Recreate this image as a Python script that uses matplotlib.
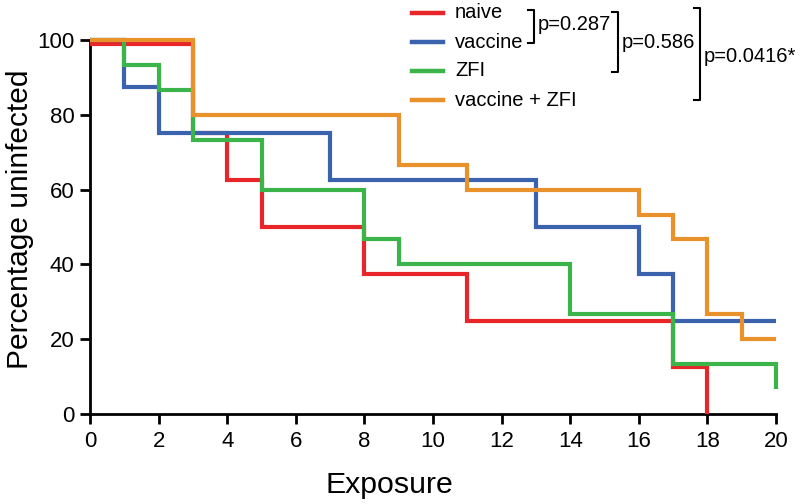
import matplotlib.pyplot as plt
from matplotlib.lines import Line2D

plt.rcParams['font.family'] = ['Liberation Sans', 'DejaVu Sans']

# step curves: exposure where value changes, and value from that point on
naive_x = [0, 3, 4, 5, 8, 11, 17, 18]
naive_y = [99, 75, 62.5, 50, 37.5, 25, 12.5, 0]

vaccine_x = [0, 1, 2, 7, 13, 16, 17, 20]
vaccine_y = [100, 87.5, 75, 62.5, 50, 37.5, 25, 25]

zfi_x = [0, 1, 2, 3, 5, 8, 9, 14, 17, 20, 20]
zfi_y = [100, 93.3, 86.7, 73.3, 60, 46.7, 40, 26.7, 13.3, 13.3, 6.7]

combo_x = [0, 3, 9, 11, 16, 17, 18, 19, 20]
combo_y = [100, 80, 66.7, 60, 53.3, 46.7, 26.7, 20, 20]

labels = ["naive", "vaccine", "ZFI", "vaccine + ZFI"]
colors = ["#e8262a", "#3a62ad", "#3bb54a", "#e9912b"]
pvals = ["p=0.287", "p=0.586", "p=0.0416*"]

W, H = 800, 504
fig = plt.figure(figsize=(W / 100, H / 100), dpi=100)
ax = fig.add_axes([90 / W, 1 - 414 / H, 686 / W, 374 / H])

series = [(naive_x, naive_y), (vaccine_x, vaccine_y), (zfi_x, zfi_y), (combo_x, combo_y)]
# draw order: combo, vaccine, naive, zfi
for i in [3, 1, 0, 2]:
    xs, ys = series[i]
    ax.step(xs, ys, where="post", color=colors[i], lw=3.0, clip_on=False,
            solid_joinstyle="miter", solid_capstyle="butt", zorder=3 + i)

ax.set_xlim(0, 20)
ax.set_ylim(0, 100)
ax.set_xticks(range(0, 21, 2))
ax.set_yticks(range(0, 101, 20))
for s in ["top", "right"]:
    ax.spines[s].set_visible(False)
for s in ["left", "bottom"]:
    ax.spines[s].set_linewidth(2.0)
ax.tick_params(direction="out", length=7, width=2.0, labelsize=16, pad=4)
ax.tick_params(axis="x", pad=5)
ax.set_xlabel("Exposure", fontsize=21.8, labelpad=14)
ax.set_ylabel("Percentage uninfected", fontsize=21.5, labelpad=2.5)
ax.xaxis.label.set_x(0.437)
ax.yaxis.label.set_y(0.52)

# legend, drawn by hand so the brackets line up (pixel coords, y from top)
for lab, c, ty in zip(labels, colors, [13, 42, 71, 100]):
    fig.add_artist(Line2D([412, 443], [H - ty, H - ty], color=c, lw=3.2, transform=None))
    fig.text(455 / W, 1 - ty / H, lab, fontsize=14.5, va="center", ha="left")

def bracket(x, y0, y1, text, ty):
    kw = dict(color="black", lw=1.5, transform=None)
    fig.add_artist(Line2D([x - 6, x, x, x - 6], [H - y0, H - y0, H - y1, H - y1], **kw))
    fig.text((x + 4) / W, 1 - ty / H, text, fontsize=14.5, va="center", ha="left")

bracket(534, 10, 43, pvals[0], 25)
bracket(618, 12, 72, pvals[1], 42)
bracket(700, 8, 100, pvals[2], 56)

fig.savefig("out.png", dpi=100)
